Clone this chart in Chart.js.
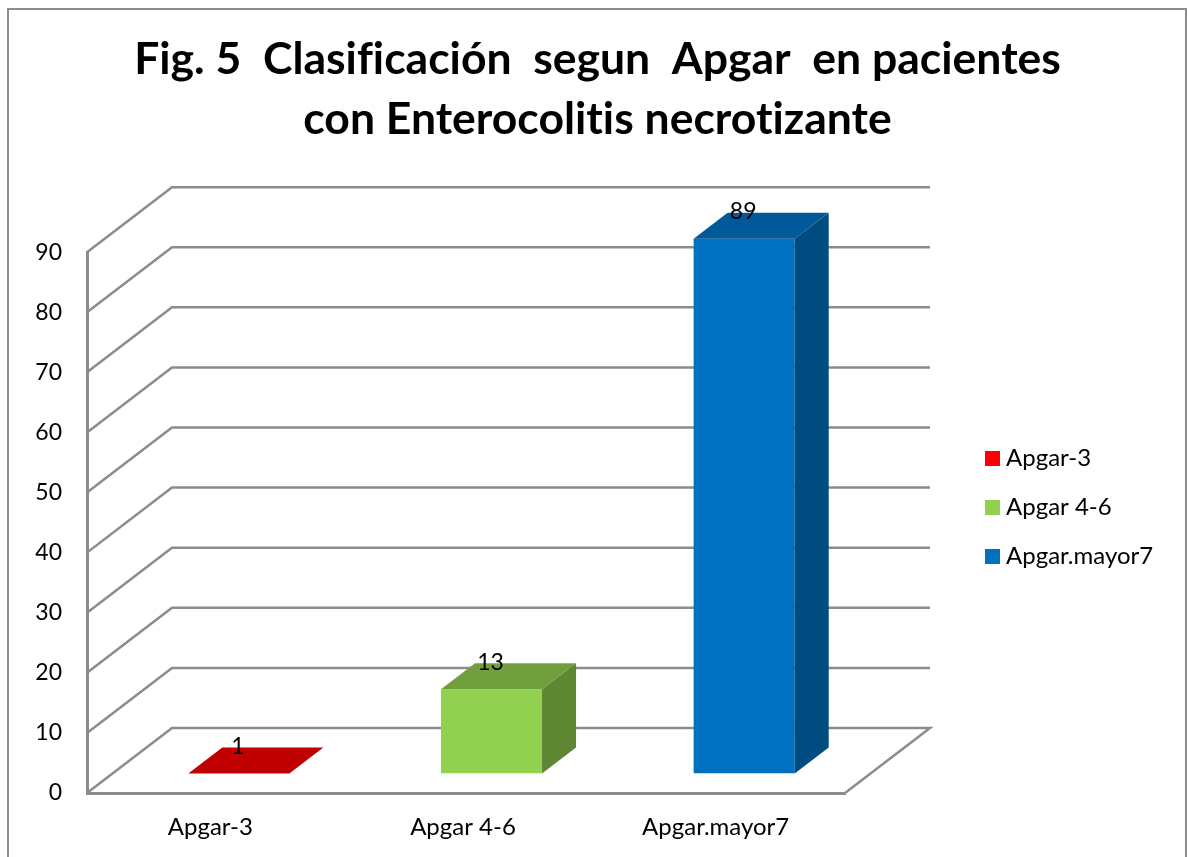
<!DOCTYPE html>
<html>
<head>
<meta charset="utf-8">
<style>html,body{margin:0;padding:0;background:#fff}canvas{display:block}</style>
<script src="https://cdn.jsdelivr.net/npm/chart.js@4/dist/chart.umd.js"></script>
</head>
<body>
<div style="width:1187px;height:857px"><canvas id="c" width="1187" height="857"></canvas></div>
<script>
const categories = ['Apgar-3', 'Apgar 4-6', 'Apgar.mayor7'];
const valueLabels = [1, 13, 89];          // numbers printed above the bars
const barHeights = [0, 14, 89];           // heights as they are drawn in the picture
const yTicks = [0, 10, 20, 30, 40, 50, 60, 70, 80, 90];
const frontColors = ['#c00000', '#92d050', '#0070c0'];
const legendColors = ['#ff0000', '#92d050', '#0070c0'];
const topColors = ['#c00000', '#729f3e', '#005999'];
const sideColors = ['#800000', '#5f8633', '#004b80'];
const titleLines = ['Fig. 5  Clasificación  segun  Apgar  en pacientes', 'con Enterocolitis necrotizante'];

const FONT = 'Lato, Carlito, Calibri, sans-serif';
const GRAY = '#8c8c8c';
const PLOT_RIGHT = 845;
const WALL = {dx: 85, dy: -65};
const BAR_SHIFT = {dx: 25.5, dy: -19.5};
const BAR_DEPTH = {dx: 34, dy: -26};

function swatch(color) {
  const s = document.createElement('canvas');
  s.width = 15; s.height = 15;
  const g = s.getContext('2d');
  g.fillStyle = color; g.fillRect(0, 0, 15, 15);
  return s;
}

const scene = {
  id: 'scene',
  afterLayout(chart) {
    const t = chart.titleBlock;
    t.left = 8; t.right = 1187;
    const l = chart.legend;
    l.left = 965; l.right = 1187; l.top = 421; l.bottom = 857;
  },
  beforeDraw(chart) {
    const c = chart.ctx;
    c.textRendering = 'optimizeSpeed';
    c.save();
    c.strokeStyle = GRAY; c.lineWidth = 2;
    c.beginPath();
    c.moveTo(8, 857); c.lineTo(8, 9); c.lineTo(1186, 9); c.lineTo(1186, 857);
    c.stroke();
    c.restore();
  },
  beforeDatasetsDraw(chart) {
    const c = chart.ctx, y = chart.scales.y, a = chart.chartArea;
    c.save();
    c.strokeStyle = GRAY; c.lineWidth = 2.5;
    yTicks.forEach(v => {
      const py = y.getPixelForValue(v);
      c.beginPath();
      c.moveTo(a.left, py);
      c.lineTo(a.left + WALL.dx, py + WALL.dy);
      c.lineTo(a.right + WALL.dx, py + WALL.dy);
      if (v === 0) c.lineTo(a.right, py);
      c.stroke();
    });
    c.restore();
    c.save();
    c.translate(BAR_SHIFT.dx, BAR_SHIFT.dy);
  },
  afterDatasetsDraw(chart) {
    const c = chart.ctx;
    c.restore();
    const bars = chart.getDatasetMeta(0).data;
    const {dx, dy} = BAR_SHIFT;
    bars.forEach((b, i) => {
      const L = b.x - b.width / 2 + dx, R = b.x + b.width / 2 + dx;
      const T = b.y + dy, B = b.base + dy;
      c.fillStyle = sideColors[i];
      c.beginPath();
      c.moveTo(R, T); c.lineTo(R + BAR_DEPTH.dx, T + BAR_DEPTH.dy);
      c.lineTo(R + BAR_DEPTH.dx, B + BAR_DEPTH.dy); c.lineTo(R, B);
      c.closePath(); c.fill();
      c.fillStyle = topColors[i];
      c.beginPath();
      c.moveTo(L, T); c.lineTo(L + BAR_DEPTH.dx, T + BAR_DEPTH.dy);
      c.lineTo(R + BAR_DEPTH.dx, T + BAR_DEPTH.dy); c.lineTo(R, T);
      c.closePath(); c.fill();
      c.fillStyle = '#000';
      c.font = '23px ' + FONT;
      c.textAlign = 'center';
      c.textBaseline = 'middle';
      c.fillText(String(valueLabels[i]), b.x + dx - 1, T - 27);
    });
  }
};

const chart = new Chart(document.getElementById('c'), {
  type: 'bar',
  data: {
    labels: categories,
    datasets: [{
      label: 'Apgar',
      data: barHeights,
      backgroundColor: frontColors,
      borderWidth: 0,
      barPercentage: 0.4,
      categoryPercentage: 1
    }]
  },
  options: {
    responsive: false,
    animation: false,
    layout: {padding: {left: 0, right: 100, top: 0, bottom: 0}},
    plugins: {
      tooltip: {enabled: false},
      title: {
        display: true,
        text: titleLines,
        color: '#000',
        font: {family: FONT, size: 44.5, weight: 'bold', lineHeight: 1.35},
        padding: {top: 30, bottom: 102}
      },
      legend: {
        display: true,
        position: 'right',
        align: 'start',
        labels: {
          color: '#000',
          font: {family: FONT, size: 24},
          usePointStyle: true,
          boxHeight: 6,
          boxWidth: 4,
          padding: 25,
          generateLabels: () => categories.map((t, i) => ({
            text: t,
            pointStyle: swatch(legendColors[i]),
            fillStyle: legendColors[i],
            strokeStyle: legendColors[i],
            lineWidth: 0,
            fontColor: '#000',
            hidden: false,
            index: i
          }))
        }
      }
    },
    scales: {
      x: {
        grid: {display: false, drawTicks: false},
        border: {display: true, color: GRAY, width: 3},
        ticks: {color: '#000', font: {family: FONT, size: 24}, padding: 20, labelOffset: -3, maxRotation: 0},
        afterFit(s) { s.height = 64; }
      },
      y: {
        min: 0, max: 90,
        grid: {display: false, drawTicks: false},
        border: {display: true, color: GRAY, width: 3},
        ticks: {color: '#000', font: {family: FONT, size: 23}, padding: 25, stepSize: 10},
        afterFit(s) { s.width = 87; }
      }
    }
  },
  plugins: [scene]
});
chart.options.layout.padding.right += chart.chartArea.right - PLOT_RIGHT;
chart.update('none');
</script>
</body>
</html>
